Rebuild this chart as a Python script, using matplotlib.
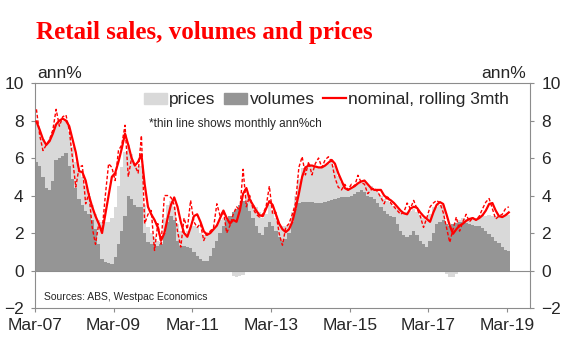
# Retail sales, volumes and prices - annual % change, Mar-07 to Mar-19
import numpy as np
import matplotlib.pyplot as plt
from matplotlib.patches import Patch
from matplotlib.lines import Line2D

# monthly values from Mar-07, one row per 12 months (Mar..Feb)
volumes = [
    5.8, 5.6, 5.0, 4.4, 4.3, 4.8, 5.9, 6.0, 6.1, 6.25, 5.6, 4.9,
    4.4, 3.8, 3.5, 3.2, 3.0, 2.7, 2.2, 1.4, 0.6, 0.45, 0.4, 0.35,
    0.7, 1.4, 2.1, 2.9, 4.0, 3.8, 3.5, 3.4, 3.4, 2.0, 1.5, 1.4,
    1.4, 1.3, 1.4, 2.0, 2.6, 2.9, 2.7, 1.6, 1.3, 1.3, 1.25, 1.2,
    1.0, 0.8, 0.6, 0.5, 0.5, 0.8, 1.2, 1.6, 2.0, 2.4, 2.7, 2.9,
    3.1, 3.3, 3.5, 3.7, 3.6, 3.2, 2.8, 2.4, 2.0, 1.9, 2.3, 2.6,
    2.4, 2.1, 1.8, 1.6, 1.7, 2.0, 2.6, 3.3, 3.6, 3.65, 3.65, 3.65,
    3.65, 3.6, 3.6, 3.6, 3.65, 3.7, 3.75, 3.8, 3.85, 3.9, 3.9, 3.9,
    4.0, 4.1, 4.2, 4.3, 4.2, 4.0, 3.9, 3.8, 3.6, 3.4, 3.2, 3.0,
    2.9, 2.85, 2.5, 2.1, 1.9, 1.8, 1.9, 2.1, 1.9, 1.6, 1.4, 1.25,
    1.6, 2.0, 2.5, 2.6, 2.7, 2.5, 2.4, 2.5, 2.55, 2.6, 2.6, 2.55,
    2.5, 2.45, 2.4, 2.35, 2.25, 2.1, 1.95, 1.8, 1.6, 1.45, 1.25, 1.1,
    1.05,
]
prices = [
    2.1, 1.9, 2.0, 2.4, 2.7, 2.6, 1.9, 2.0, 1.9, 1.75, 1.8, 1.7,
    1.4, 1.5, 1.5, 1.3, 1.0, 0.8, 0.8, 1.3, 2.0, 2.15, 2.2, 2.45,
    2.7, 3.1, 3.4, 3.4, 2.7, 2.4, 2.2, 2.2, 2.2, 1.5, 0.8, 0.6,
    0.4, 0.3, 0.1, 0.8, 0.9, 0.8, 0.7, 0.9, 0.8, 0.7, 0.85, 1.1,
    1.4, 1.5, 1.4, 1.4, 1.4, 1.2, 1.0, 0.8, 0.7, 0.4, 0.1, -0.1,
    -0.3, -0.35, -0.3, -0.25, 0.5, 0.5, 0.7, 1.0, 1.1, 0.9, 0.7, 0.9,
    0.8, 0.7, 0.7, 0.8, 0.7, 0.5, 0.5, 0.7, 1.3, 1.8, 1.9, 2.0,
    1.9, 1.9, 1.9, 1.9, 2.0, 2.0, 2.1, 1.8, 1.2, 0.8, 0.6, 0.5,
    0.4, 0.4, 0.4, 0.4, 0.5, 0.6, 0.6, 0.5, 0.6, 0.6, 0.6, 0.7,
    0.7, 0.6, 0.8, 1.1, 1.2, 1.3, 1.3, 1.2, 1.2, 1.3, 1.4, 1.4,
    1.4, 1.4, 0.9, 0.9, 0.8, -0.2, -0.35, -0.35, -0.2, 0.1, 0.2, 0.2,
    0.3, 0.4, 0.4, 0.5, 0.7, 0.8, 1.0, 1.1, 1.3, 1.5, 1.7, 1.85,
    1.9,
]
nominal_3mth = [
    7.95, 7.5, 7.0, 6.7, 6.9, 7.3, 7.8, 8.0, 8.1, 8.0, 7.7, 7.0,
    6.3, 5.3, 5.25, 4.8, 4.0, 3.4, 2.9, 2.5, 2.0, 3.0, 4.0, 5.0,
    5.2, 5.8, 6.5, 7.3, 6.7, 6.0, 5.6, 5.8, 6.2, 4.6, 3.4, 3.0,
    2.7, 2.3, 1.6, 2.0, 2.8, 3.5, 3.9, 3.4, 2.6, 2.0, 1.8, 2.3,
    2.9, 3.0, 2.6, 2.1, 1.9, 2.0, 2.2, 2.4, 2.8, 3.2, 2.8, 2.5,
    2.7, 2.6, 3.2, 4.1, 4.4, 3.8, 3.5, 3.2, 2.95, 2.9, 3.3, 3.7,
    3.5, 3.0, 2.5, 2.2, 2.05, 2.2, 2.6, 3.3, 4.1, 5.0, 5.5, 5.6,
    5.6, 5.55, 5.5, 5.5, 5.6, 5.75, 5.9, 5.7, 5.2, 4.8, 4.4, 4.3,
    4.4, 4.5, 4.65, 4.75, 4.8, 4.6, 4.4, 4.3, 4.3, 4.3, 4.0, 3.85,
    3.75, 3.6, 3.4, 3.2, 3.05, 3.0, 3.3, 3.4, 3.35, 3.1, 2.9, 2.75,
    2.6, 3.1, 3.5, 3.65, 3.55, 3.0, 2.4, 1.96, 2.2, 2.4, 2.5, 2.65,
    2.75, 2.8, 2.7, 2.8, 2.95, 3.2, 3.55, 3.6, 3.2, 2.9, 2.85, 2.95,
    3.1,
]
nominal_monthly = [
    8.6, 7.2, 6.4, 6.7, 7.0, 7.5, 8.6, 7.7, 8.2, 8.3, 7.5, 6.0,
    4.45, 5.5, 5.6, 3.56, 4.1, 2.3, 1.4, 2.5, 2.1, 4.0, 5.7, 5.5,
    4.8, 6.4, 6.7, 7.75, 5.0, 6.0, 5.6, 5.2, 7.2, 2.5, 3.0, 3.2,
    1.07, 2.5, 1.4, 4.0, 4.0, 3.9, 3.5, 2.1, 1.25, 2.8, 2.2, 3.74,
    2.6, 2.3, 2.5, 1.6, 2.0, 2.1, 2.3, 3.56, 2.9, 3.2, 2.0, 2.4,
    3.0, 3.4, 3.2, 5.4, 3.4, 4.0, 3.3, 3.0, 2.85, 3.0, 3.4, 4.5,
    3.0, 3.1, 1.96, 1.35, 2.3, 2.5, 3.0, 3.6, 5.5, 6.07, 5.1, 5.8,
    5.1, 5.7, 6.0, 5.5, 5.9, 6.07, 5.8, 4.95, 4.45, 4.3, 4.6, 4.3,
    4.6, 4.5, 5.08, 4.7, 4.6, 4.1, 4.3, 4.4, 4.2, 3.9, 3.56, 4.0,
    3.6, 3.4, 3.2, 3.0, 3.1, 3.6, 3.3, 3.74, 3.3, 2.9, 2.3, 2.8,
    3.4, 3.6, 3.74, 3.6, 3.1, 2.3, 1.5, 2.2, 2.85, 2.1, 2.6, 3.0,
    2.6, 2.8, 2.7, 2.9, 3.3, 3.65, 3.84, 3.3, 2.75, 2.9, 3.0, 3.3,
    3.4,
]
tick_labels = ["Mar-07", "Mar-09", "Mar-11", "Mar-13", "Mar-15", "Mar-17", "Mar-19"]

volumes = np.array(volumes)
prices = np.array(prices)
months = np.arange(len(volumes))

light = "#d9d9d9"
dark = "#959595"
red = "#ff0000"
txt = "#262626"

plt.rcParams["font.family"] = ["Liberation Sans", "DejaVu Sans"]

fig = plt.figure(figsize=(5.8, 3.52), dpi=100)
ax = fig.add_axes([0.060, 0.125, 0.854, 0.639])

# stacked columns, no gaps; negative prices go below zero
ax.bar(months, volumes, width=1, align="edge", color=dark, linewidth=0, zorder=1)
ax.bar(months, np.where(prices > 0, prices, 0), bottom=volumes, width=1,
       align="edge", color=light, linewidth=0, zorder=1)
ax.bar(months, np.where(prices < 0, prices, 0), width=1, align="edge",
       color=light, linewidth=0, zorder=1)
ax.axhline(0, color="#8c8c8c", lw=0.8, zorder=2)

ax.plot(months + 0.5, nominal_monthly, color=red, lw=1.0, ls=(0, (2.5, 1.5)), zorder=3)
ax.plot(months + 0.5, nominal_3mth, color=red, lw=1.6, zorder=4)

ax.set_xlim(0, 151)
ax.set_ylim(-2, 10)
ax.set_yticks(range(-2, 11, 2))
ax.set_xticks(range(0, 145, 24))
ax.set_xticklabels(tick_labels)
ax.tick_params(axis="both", labelsize=12.5, colors="#8c8c8c", labelcolor=txt,
               direction="out", length=3, width=0.8)
ax.tick_params(axis="y", right=True, labelright=True, pad=5)
ax.tick_params(axis="x", pad=4)
for s in ax.spines.values():
    s.set_color("#8c8c8c")
    s.set_linewidth(0.8)

fig.text(0.064, 0.79, "ann%", fontsize=12.5, color=txt, va="center")
fig.text(0.907, 0.79, "ann%", fontsize=12.5, color=txt, va="center", ha="right")
fig.text(0.062, 0.909, "Retail sales, volumes and prices", fontsize=18,
         fontweight="bold", color=red, family="Liberation Serif", va="center")

handles = [Patch(color=light), Patch(color=dark), Line2D([], [], color=red, lw=1.6)]
ax.legend(handles, ["prices", "volumes", "nominal, rolling 3mth"], loc="upper right",
          bbox_to_anchor=(0.972, 0.99), ncol=3, frameon=False, fontsize=12.5,
          handlelength=1.3, handleheight=0.6, handletextpad=0.15, columnspacing=0.5,
          labelcolor=txt, borderaxespad=0)
ax.text(0.23, 0.82, "*thin line shows monthly ann%ch", transform=ax.transAxes,
        fontsize=8.5, color=txt, va="center")
ax.text(0.018, 0.05, "Sources: ABS, Westpac Economics", transform=ax.transAxes,
        fontsize=7.5, color=txt, va="center")

fig.savefig("out.png", dpi=100)
